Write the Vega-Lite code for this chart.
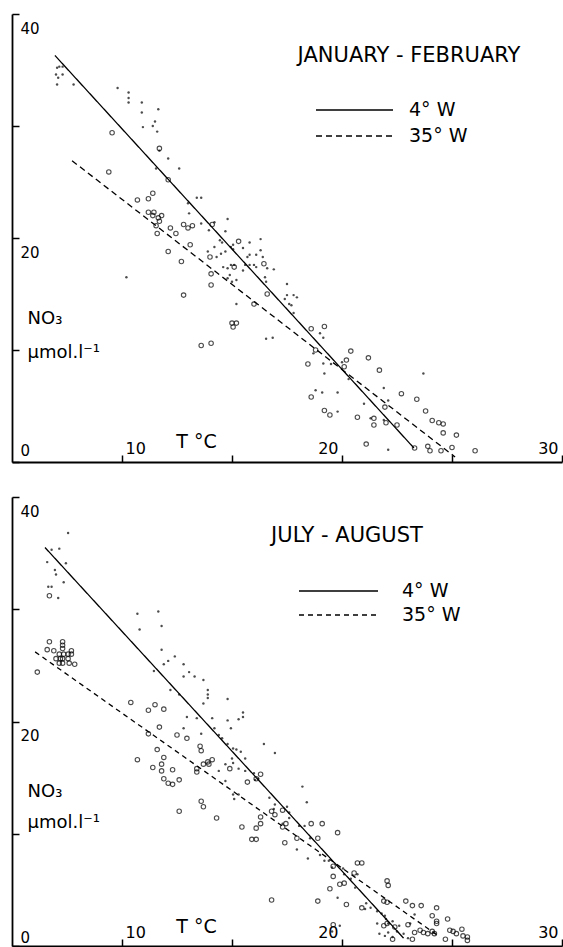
{
  "$schema": "https://vega.github.io/schema/vega-lite/v6.json",
  "background": "white",
  "padding": {"left": 11, "top": 13, "right": 0, "bottom": 0},
  "spacing": 33,
  "config": {
    "view": {"stroke": null},
    "font": "DejaVu Sans",
    "axis": {"grid": false, "domainColor": "black", "domainWidth": 1.8, "tickColor": "black", "tickWidth": 1.5, "tickSize": -7, "labelColor": "black", "labelFont": "DejaVu Sans", "labelFontSize": 15, "titleColor": "black", "titleFont": "DejaVu Sans", "titleFontWeight": "normal", "labelFlush": false, "labelOverlap": false},
    "legend": {"labelColor": "black", "labelFont": "DejaVu Sans", "labelFontSize": 19, "symbolType": "stroke", "symbolStrokeColor": "black", "symbolStrokeWidth": 1.3, "padding": 0},
    "title": {"font": "DejaVu Sans", "fontSize": 21, "fontWeight": "normal", "color": "black", "anchor": "middle", "frame": "group", "baseline": "alphabetic"}
  },
  "datasets": {
    "jfLines": [
      {"station": "4° W", "T": 6.95, "NO3": 36.3}, {"station": "4° W", "T": 23.27, "NO3": 1.25},
      {"station": "35° W", "T": 7.73, "NO3": 26.9}, {"station": "35° W", "T": 25.14, "NO3": 0.45}
    ],
    "jaLines": [
      {"station": "4° W", "T": 6.5, "NO3": 35.5}, {"station": "4° W", "T": 22.8, "NO3": 0.7},
      {"station": "35° W", "T": 6.05, "NO3": 26.2}, {"station": "35° W", "T": 24.45, "NO3": 0.8}
    ],
    "jfPts": [
      {"station":"4° W","T":7.05,"NO3":35.2},{"station":"4° W","T":7.15,"NO3":35.3},{"station":"4° W","T":7.3,"NO3":35.3},{"station":"4° W","T":7.0,"NO3":34.6},{"station":"4° W","T":7.1,"NO3":34.3},{"station":"4° W","T":7.3,"NO3":34.6},{"station":"4° W","T":7.05,"NO3":33.7},{"station":"4° W","T":7.8,"NO3":33.7},{"station":"4° W","T":9.8,"NO3":33.4},{"station":"4° W","T":10.3,"NO3":33.0},{"station":"4° W","T":10.3,"NO3":32.5},{"station":"4° W","T":10.3,"NO3":32.1},{"station":"4° W","T":10.9,"NO3":32.1},{"station":"4° W","T":10.9,"NO3":31.2},{"station":"4° W","T":11.65,"NO3":31.5},{"station":"4° W","T":10.95,"NO3":29.9},{"station":"4° W","T":11.4,"NO3":30.0},{"station":"4° W","T":11.5,"NO3":30.4},{"station":"4° W","T":11.6,"NO3":29.5},{"station":"4° W","T":11.7,"NO3":27.8},{"station":"4° W","T":12.1,"NO3":27.1},{"station":"4° W","T":12.6,"NO3":26.2},{"station":"4° W","T":11.55,"NO3":26.2},{"station":"4° W","T":13.4,"NO3":23.6},{"station":"4° W","T":13.6,"NO3":23.6},{"station":"4° W","T":13.0,"NO3":23.1},{"station":"4° W","T":13.05,"NO3":22.2},{"station":"4° W","T":13.6,"NO3":21.3},{"station":"4° W","T":14.2,"NO3":21.4},{"station":"4° W","T":14.8,"NO3":21.7},{"station":"4° W","T":14.7,"NO3":20.6},{"station":"4° W","T":13.95,"NO3":20.7},{"station":"4° W","T":14.45,"NO3":19.8},{"station":"4° W","T":14.55,"NO3":19.6},{"station":"4° W","T":14.2,"NO3":19.2},{"station":"4° W","T":13.9,"NO3":18.8},{"station":"4° W","T":14.3,"NO3":18.3},{"station":"4° W","T":14.5,"NO3":18.6},{"station":"4° W","T":14.7,"NO3":18.8},{"station":"4° W","T":14.95,"NO3":19.2},{"station":"4° W","T":15.05,"NO3":19.4},{"station":"4° W","T":15.05,"NO3":19.0},{"station":"4° W","T":15.5,"NO3":19.1},{"station":"4° W","T":15.8,"NO3":19.6},{"station":"4° W","T":16.3,"NO3":19.9},{"station":"4° W","T":15.7,"NO3":18.3},{"station":"4° W","T":15.8,"NO3":18.5},{"station":"4° W","T":16.1,"NO3":18.5},{"station":"4° W","T":16.3,"NO3":18.9},{"station":"4° W","T":16.4,"NO3":18.3},{"station":"4° W","T":14.6,"NO3":17.4},{"station":"4° W","T":14.8,"NO3":17.3},{"station":"4° W","T":14.95,"NO3":17.6},{"station":"4° W","T":15.1,"NO3":17.6},{"station":"4° W","T":15.6,"NO3":17.6},{"station":"4° W","T":15.8,"NO3":17.6},{"station":"4° W","T":16.0,"NO3":17.6},{"station":"4° W","T":16.1,"NO3":17.4},{"station":"4° W","T":16.6,"NO3":17.3},{"station":"4° W","T":16.9,"NO3":17.2},{"station":"4° W","T":15.5,"NO3":17.1},{"station":"4° W","T":14.9,"NO3":16.7},{"station":"4° W","T":14.8,"NO3":16.4},{"station":"4° W","T":15.0,"NO3":16.1},{"station":"4° W","T":15.2,"NO3":16.25},{"station":"4° W","T":16.5,"NO3":16.5},{"station":"4° W","T":16.55,"NO3":16.1},{"station":"4° W","T":17.5,"NO3":15.9},{"station":"4° W","T":17.8,"NO3":14.9},{"station":"4° W","T":17.95,"NO3":14.7},{"station":"4° W","T":17.5,"NO3":14.9},{"station":"4° W","T":17.4,"NO3":14.55},{"station":"4° W","T":17.6,"NO3":14.1},{"station":"4° W","T":17.7,"NO3":14.0},{"station":"4° W","T":17.8,"NO3":13.3},{"station":"4° W","T":15.2,"NO3":14.1},{"station":"4° W","T":16.85,"NO3":11.1},{"station":"4° W","T":16.55,"NO3":11.0},{"station":"4° W","T":19.0,"NO3":11.5},{"station":"4° W","T":19.15,"NO3":11.1},{"station":"4° W","T":18.7,"NO3":9.7},{"station":"4° W","T":19.15,"NO3":8.8},{"station":"4° W","T":19.2,"NO3":7.9},{"station":"4° W","T":19.5,"NO3":8.75},{"station":"4° W","T":20.0,"NO3":8.9},{"station":"4° W","T":20.3,"NO3":7.4},{"station":"4° W","T":18.8,"NO3":6.4},{"station":"4° W","T":19.1,"NO3":6.2},{"station":"4° W","T":19.8,"NO3":6.2},{"station":"4° W","T":19.8,"NO3":4.5},{"station":"4° W","T":21.0,"NO3":5.2},{"station":"4° W","T":21.3,"NO3":3.9},{"station":"4° W","T":21.9,"NO3":6.6},{"station":"4° W","T":22.1,"NO3":5.5},{"station":"4° W","T":23.7,"NO3":7.9},{"station":"4° W","T":22.1,"NO3":1.1},{"station":"4° W","T":21.9,"NO3":3.75},{"station":"4° W","T":10.2,"NO3":16.5},
      {"station":"35° W","T":9.55,"NO3":29.4},{"station":"35° W","T":9.4,"NO3":25.9},{"station":"35° W","T":11.7,"NO3":28.0},{"station":"35° W","T":12.1,"NO3":25.2},{"station":"35° W","T":11.4,"NO3":24.0},{"station":"35° W","T":10.7,"NO3":23.4},{"station":"35° W","T":11.2,"NO3":23.5},{"station":"35° W","T":11.2,"NO3":22.3},{"station":"35° W","T":11.45,"NO3":22.3},{"station":"35° W","T":11.4,"NO3":22.0},{"station":"35° W","T":11.65,"NO3":21.8},{"station":"35° W","T":11.8,"NO3":22.0},{"station":"35° W","T":11.7,"NO3":21.5},{"station":"35° W","T":11.55,"NO3":21.1},{"station":"35° W","T":11.6,"NO3":20.4},{"station":"35° W","T":12.2,"NO3":20.9},{"station":"35° W","T":12.45,"NO3":20.4},{"station":"35° W","T":12.8,"NO3":21.2},{"station":"35° W","T":13.0,"NO3":20.9},{"station":"35° W","T":13.2,"NO3":21.1},{"station":"35° W","T":14.1,"NO3":21.2},{"station":"35° W","T":12.1,"NO3":18.8},{"station":"35° W","T":13.1,"NO3":19.4},{"station":"35° W","T":12.7,"NO3":17.9},{"station":"35° W","T":14.0,"NO3":18.3},{"station":"35° W","T":14.05,"NO3":16.8},{"station":"35° W","T":14.05,"NO3":15.8},{"station":"35° W","T":12.8,"NO3":14.9},{"station":"35° W","T":15.1,"NO3":17.4},{"station":"35° W","T":15.3,"NO3":19.7},{"station":"35° W","T":16.45,"NO3":17.7},{"station":"35° W","T":16.6,"NO3":15.0},{"station":"35° W","T":16.0,"NO3":14.1},{"station":"35° W","T":15.0,"NO3":12.4},{"station":"35° W","T":15.2,"NO3":12.4},{"station":"35° W","T":15.05,"NO3":12.05},{"station":"35° W","T":13.6,"NO3":10.4},{"station":"35° W","T":14.05,"NO3":10.6},{"station":"35° W","T":18.6,"NO3":11.9},{"station":"35° W","T":19.2,"NO3":12.1},{"station":"35° W","T":18.8,"NO3":10.0},{"station":"35° W","T":18.45,"NO3":8.75},{"station":"35° W","T":20.4,"NO3":9.9},{"station":"35° W","T":20.2,"NO3":9.1},{"station":"35° W","T":20.1,"NO3":8.5},{"station":"35° W","T":21.2,"NO3":9.3},{"station":"35° W","T":21.7,"NO3":8.2},{"station":"35° W","T":18.6,"NO3":5.8},{"station":"35° W","T":19.2,"NO3":4.6},{"station":"35° W","T":19.45,"NO3":4.2},{"station":"35° W","T":20.7,"NO3":4.0},{"station":"35° W","T":21.45,"NO3":3.9},{"station":"35° W","T":21.45,"NO3":3.3},{"station":"35° W","T":21.95,"NO3":4.9},{"station":"35° W","T":22.0,"NO3":3.5},{"station":"35° W","T":22.5,"NO3":3.3},{"station":"35° W","T":22.7,"NO3":6.1},{"station":"35° W","T":23.4,"NO3":5.6},{"station":"35° W","T":23.8,"NO3":4.55},{"station":"35° W","T":24.1,"NO3":3.7},{"station":"35° W","T":24.4,"NO3":3.5},{"station":"35° W","T":24.6,"NO3":3.4},{"station":"35° W","T":24.6,"NO3":2.6},{"station":"35° W","T":25.2,"NO3":2.4},{"station":"35° W","T":21.1,"NO3":1.6},{"station":"35° W","T":23.3,"NO3":1.25},{"station":"35° W","T":23.9,"NO3":1.4},{"station":"35° W","T":24.0,"NO3":1.0},{"station":"35° W","T":24.5,"NO3":1.0},{"station":"35° W","T":25.0,"NO3":1.3},{"station":"35° W","T":26.05,"NO3":1.0}
    ],
    "jaPts": [
      {"station":"4° W","T":7.55,"NO3":36.8},{"station":"4° W","T":6.8,"NO3":35.3},{"station":"4° W","T":7.15,"NO3":35.4},{"station":"4° W","T":6.6,"NO3":34.2},{"station":"4° W","T":7.45,"NO3":34.1},{"station":"4° W","T":6.95,"NO3":33.5},{"station":"4° W","T":7.0,"NO3":33.1},{"station":"4° W","T":7.35,"NO3":32.4},{"station":"4° W","T":6.65,"NO3":32.0},{"station":"4° W","T":6.8,"NO3":32.0},{"station":"4° W","T":7.1,"NO3":31.0},{"station":"4° W","T":10.7,"NO3":29.6},{"station":"4° W","T":11.65,"NO3":29.8},{"station":"4° W","T":10.8,"NO3":28.2},{"station":"4° W","T":11.8,"NO3":28.5},{"station":"4° W","T":11.8,"NO3":26.4},{"station":"4° W","T":11.45,"NO3":24.5},{"station":"4° W","T":11.9,"NO3":25.1},{"station":"4° W","T":12.1,"NO3":25.4},{"station":"4° W","T":12.4,"NO3":25.8},{"station":"4° W","T":12.8,"NO3":25.1},{"station":"4° W","T":12.8,"NO3":24.0},{"station":"4° W","T":13.05,"NO3":24.4},{"station":"4° W","T":13.3,"NO3":24.0},{"station":"4° W","T":13.7,"NO3":23.7},{"station":"4° W","T":13.9,"NO3":22.8},{"station":"4° W","T":13.9,"NO3":22.4},{"station":"4° W","T":13.9,"NO3":22.1},{"station":"4° W","T":13.7,"NO3":21.6},{"station":"4° W","T":14.8,"NO3":22.0},{"station":"4° W","T":12.2,"NO3":22.8},{"station":"4° W","T":12.6,"NO3":22.4},{"station":"4° W","T":12.95,"NO3":20.4},{"station":"4° W","T":13.4,"NO3":20.3},{"station":"4° W","T":12.8,"NO3":19.4},{"station":"4° W","T":13.6,"NO3":18.9},{"station":"4° W","T":14.1,"NO3":20.3},{"station":"4° W","T":14.2,"NO3":19.4},{"station":"4° W","T":14.8,"NO3":20.1},{"station":"4° W","T":14.95,"NO3":19.4},{"station":"4° W","T":15.3,"NO3":20.2},{"station":"4° W","T":15.5,"NO3":20.8},{"station":"4° W","T":15.5,"NO3":20.4},{"station":"4° W","T":14.4,"NO3":18.8},{"station":"4° W","T":14.55,"NO3":18.5},{"station":"4° W","T":14.8,"NO3":18.0},{"station":"4° W","T":15.05,"NO3":17.6},{"station":"4° W","T":15.2,"NO3":17.5},{"station":"4° W","T":15.4,"NO3":17.3},{"station":"4° W","T":15.6,"NO3":16.7},{"station":"4° W","T":16.45,"NO3":18.0},{"station":"4° W","T":16.95,"NO3":17.2},{"station":"4° W","T":14.7,"NO3":14.7},{"station":"4° W","T":15.0,"NO3":16.7},{"station":"4° W","T":15.3,"NO3":15.8},{"station":"4° W","T":15.6,"NO3":15.6},{"station":"4° W","T":16.0,"NO3":15.4},{"station":"4° W","T":16.2,"NO3":14.9},{"station":"4° W","T":14.7,"NO3":16.2},{"station":"4° W","T":15.05,"NO3":16.3},{"station":"4° W","T":14.4,"NO3":15.6},{"station":"4° W","T":15.05,"NO3":13.5},{"station":"4° W","T":15.3,"NO3":13.5},{"station":"4° W","T":15.1,"NO3":13.1},{"station":"4° W","T":16.05,"NO3":14.8},{"station":"4° W","T":16.7,"NO3":13.2},{"station":"4° W","T":16.95,"NO3":12.6},{"station":"4° W","T":17.5,"NO3":12.4},{"station":"4° W","T":17.6,"NO3":11.9},{"station":"4° W","T":18.2,"NO3":14.2},{"station":"4° W","T":18.4,"NO3":12.8},{"station":"4° W","T":17.6,"NO3":11.4},{"station":"4° W","T":16.9,"NO3":12.2},{"station":"4° W","T":17.3,"NO3":10.9},{"station":"4° W","T":18.05,"NO3":10.7},{"station":"4° W","T":18.3,"NO3":10.7},{"station":"4° W","T":18.55,"NO3":9.6},{"station":"4° W","T":17.95,"NO3":8.6},{"station":"4° W","T":18.45,"NO3":7.8},{"station":"4° W","T":19.0,"NO3":8.1},{"station":"4° W","T":19.2,"NO3":7.6},{"station":"4° W","T":19.4,"NO3":7.6},{"station":"4° W","T":19.55,"NO3":7.0},{"station":"4° W","T":20.05,"NO3":6.9},{"station":"4° W","T":20.1,"NO3":6.4},{"station":"4° W","T":20.4,"NO3":6.0},{"station":"4° W","T":20.6,"NO3":5.2},{"station":"4° W","T":19.8,"NO3":4.3},{"station":"4° W","T":21.1,"NO3":3.8},{"station":"4° W","T":21.3,"NO3":3.4},{"station":"4° W","T":21.6,"NO3":3.1},{"station":"4° W","T":21.8,"NO3":2.9},{"station":"4° W","T":21.95,"NO3":2.7},{"station":"4° W","T":22.0,"NO3":2.4},{"station":"4° W","T":21.6,"NO3":2.0},{"station":"4° W","T":22.1,"NO3":2.0},{"station":"4° W","T":22.3,"NO3":2.2},{"station":"4° W","T":22.6,"NO3":1.8},{"station":"4° W","T":21.7,"NO3":1.1},{"station":"4° W","T":21.95,"NO3":0.9},{"station":"4° W","T":22.1,"NO3":1.2},{"station":"4° W","T":22.3,"NO3":0.8},{"station":"4° W","T":22.5,"NO3":1.3},{"station":"4° W","T":22.8,"NO3":1.1},{"station":"4° W","T":23.0,"NO3":0.7},{"station":"4° W","T":23.3,"NO3":2.8},{"station":"4° W","T":23.1,"NO3":2.0},{"station":"4° W","T":19.9,"NO3":1.8},{"station":"4° W","T":19.55,"NO3":1.3},{"station":"4° W","T":21.05,"NO3":3.3},{"station":"4° W","T":20.7,"NO3":6.4},
      {"station":"35° W","T":6.7,"NO3":27.1},{"station":"35° W","T":6.6,"NO3":26.4},{"station":"35° W","T":6.9,"NO3":26.3},{"station":"35° W","T":7.3,"NO3":27.1},{"station":"35° W","T":7.3,"NO3":26.8},{"station":"35° W","T":7.3,"NO3":26.5},{"station":"35° W","T":7.15,"NO3":26.0},{"station":"35° W","T":7.35,"NO3":26.0},{"station":"35° W","T":7.55,"NO3":26.0},{"station":"35° W","T":7.7,"NO3":26.3},{"station":"35° W","T":7.7,"NO3":26.0},{"station":"35° W","T":7.0,"NO3":25.6},{"station":"35° W","T":7.2,"NO3":25.6},{"station":"35° W","T":7.3,"NO3":25.6},{"station":"35° W","T":7.55,"NO3":25.6},{"station":"35° W","T":7.15,"NO3":25.2},{"station":"35° W","T":7.3,"NO3":25.2},{"station":"35° W","T":7.6,"NO3":25.2},{"station":"35° W","T":7.85,"NO3":25.1},{"station":"35° W","T":6.15,"NO3":24.4},{"station":"35° W","T":6.7,"NO3":31.2},{"station":"35° W","T":10.4,"NO3":21.7},{"station":"35° W","T":11.5,"NO3":21.5},{"station":"35° W","T":11.2,"NO3":21.0},{"station":"35° W","T":11.9,"NO3":21.1},{"station":"35° W","T":11.7,"NO3":19.5},{"station":"35° W","T":11.2,"NO3":18.9},{"station":"35° W","T":12.5,"NO3":18.8},{"station":"35° W","T":12.95,"NO3":18.5},{"station":"35° W","T":10.7,"NO3":16.6},{"station":"35° W","T":11.4,"NO3":15.9},{"station":"35° W","T":11.8,"NO3":16.2},{"station":"35° W","T":11.8,"NO3":15.6},{"station":"35° W","T":11.6,"NO3":17.5},{"station":"35° W","T":11.9,"NO3":16.8},{"station":"35° W","T":12.3,"NO3":15.7},{"station":"35° W","T":11.9,"NO3":14.9},{"station":"35° W","T":12.1,"NO3":14.5},{"station":"35° W","T":12.3,"NO3":14.4},{"station":"35° W","T":12.6,"NO3":14.8},{"station":"35° W","T":12.6,"NO3":12.0},{"station":"35° W","T":13.4,"NO3":15.8},{"station":"35° W","T":13.4,"NO3":15.5},{"station":"35° W","T":13.55,"NO3":17.8},{"station":"35° W","T":13.6,"NO3":17.4},{"station":"35° W","T":13.7,"NO3":16.2},{"station":"35° W","T":13.9,"NO3":16.4},{"station":"35° W","T":13.95,"NO3":16.2},{"station":"35° W","T":14.1,"NO3":16.6},{"station":"35° W","T":14.9,"NO3":15.8},{"station":"35° W","T":13.6,"NO3":12.9},{"station":"35° W","T":13.7,"NO3":12.4},{"station":"35° W","T":14.3,"NO3":11.4},{"station":"35° W","T":15.7,"NO3":14.6},{"station":"35° W","T":16.1,"NO3":14.9},{"station":"35° W","T":16.3,"NO3":15.3},{"station":"35° W","T":15.45,"NO3":10.6},{"station":"35° W","T":15.9,"NO3":9.5},{"station":"35° W","T":16.1,"NO3":9.5},{"station":"35° W","T":16.1,"NO3":10.5},{"station":"35° W","T":16.3,"NO3":10.9},{"station":"35° W","T":16.3,"NO3":11.5},{"station":"35° W","T":16.8,"NO3":12.0},{"station":"35° W","T":16.95,"NO3":11.7},{"station":"35° W","T":17.3,"NO3":12.1},{"station":"35° W","T":17.45,"NO3":10.9},{"station":"35° W","T":17.3,"NO3":10.6},{"station":"35° W","T":17.95,"NO3":9.6},{"station":"35° W","T":17.4,"NO3":9.2},{"station":"35° W","T":18.6,"NO3":10.9},{"station":"35° W","T":19.1,"NO3":10.9},{"station":"35° W","T":18.9,"NO3":9.6},{"station":"35° W","T":19.8,"NO3":10.1},{"station":"35° W","T":19.6,"NO3":7.1},{"station":"35° W","T":19.6,"NO3":6.2},{"station":"35° W","T":19.9,"NO3":5.5},{"station":"35° W","T":20.1,"NO3":5.6},{"station":"35° W","T":19.45,"NO3":5.1},{"station":"35° W","T":20.2,"NO3":3.7},{"station":"35° W","T":20.7,"NO3":7.4},{"station":"35° W","T":20.9,"NO3":7.4},{"station":"35° W","T":20.55,"NO3":6.5},{"station":"35° W","T":18.9,"NO3":4.0},{"station":"35° W","T":20.9,"NO3":3.4},{"station":"35° W","T":22.05,"NO3":5.8},{"station":"35° W","T":22.1,"NO3":5.4},{"station":"35° W","T":21.9,"NO3":4.0},{"station":"35° W","T":22.05,"NO3":3.9},{"station":"35° W","T":22.9,"NO3":4.0},{"station":"35° W","T":23.2,"NO3":3.6},{"station":"35° W","T":23.6,"NO3":3.6},{"station":"35° W","T":24.3,"NO3":3.4},{"station":"35° W","T":24.1,"NO3":2.7},{"station":"35° W","T":24.8,"NO3":2.4},{"station":"35° W","T":24.3,"NO3":2.2},{"station":"35° W","T":24.3,"NO3":2.0},{"station":"35° W","T":19.6,"NO3":1.9},{"station":"35° W","T":16.8,"NO3":4.1},{"station":"35° W","T":21.9,"NO3":1.8},{"station":"35° W","T":22.05,"NO3":2.0},{"station":"35° W","T":22.4,"NO3":1.7},{"station":"35° W","T":23.0,"NO3":1.9},{"station":"35° W","T":23.3,"NO3":1.2},{"station":"35° W","T":23.2,"NO3":0.6},{"station":"35° W","T":23.55,"NO3":1.4},{"station":"35° W","T":23.7,"NO3":1.2},{"station":"35° W","T":23.9,"NO3":1.1},{"station":"35° W","T":24.1,"NO3":1.3},{"station":"35° W","T":24.2,"NO3":1.1},{"station":"35° W","T":24.9,"NO3":1.4},{"station":"35° W","T":25.05,"NO3":1.3},{"station":"35° W","T":25.2,"NO3":1.1},{"station":"35° W","T":25.45,"NO3":1.5},{"station":"35° W","T":25.5,"NO3":0.9},{"station":"35° W","T":25.7,"NO3":0.8},{"station":"35° W","T":25.7,"NO3":0.5},{"station":"35° W","T":24.7,"NO3":0.6},{"station":"35° W","T":22.3,"NO3":0.6}
    ]
  },
  "resolve": {"scale": {"x": "independent", "y": "independent", "strokeDash": "independent"}, "legend": {"strokeDash": "independent"}},
  "vconcat": [
    {
      "width": 550,
      "height": 448,
      "title": {"text": "JANUARY - FEBRUARY", "offset": -53, "dx": 122},
      "encoding": {
        "x": {"field": "T", "type": "quantitative", "scale": {"domain": [5, 30], "nice": false, "zero": false},
          "axis": {"values": [10, 15, 20, 25, 30], "labelExpr": "datum.value % 10 == 0 ? datum.label : ''", "labelFontSize": 16, "labelBaseline": "alphabetic", "labelPadding": -2,
            "labelAlign": {"condition": {"test": "datum.value == 10", "value": "left"}, "value": "right"},
            "labelOffset": {"condition": {"test": "datum.value == 10", "value": 3}, "value": -4},
            "title": "T °C", "titleFontSize": 19, "titleX": 184, "titleY": -15, "titleAlign": "center", "titleBaseline": "alphabetic"}},
        "y": {"field": "NO3", "type": "quantitative", "scale": {"domain": [0, 40], "nice": false},
          "axis": {"values": [0, 10, 20, 30, 40], "labelExpr": "datum.value % 20 == 0 ? datum.label : ''", "labelAlign": "left", "labelPadding": -1,
            "labelBaseline": {"condition": {"test": "datum.value == 0", "value": "alphabetic"}, "value": "top"},
            "labelOffset": {"condition": {"test": "datum.value == 0", "value": -7}, "value": 7},
            "title": ["NO₃", "µmol.l⁻¹"], "titleFontSize": 18, "titleAngle": 0, "titleAlign": "left", "titleBaseline": "alphabetic", "titleX": 15, "titleY": 309, "titleLineHeight": 34}}
      },
      "layer": [
        {"data": {"name": "jfLines"}, "mark": {"type": "line", "color": "black", "strokeWidth": 1.3},
          "encoding": {"strokeDash": {"field": "station", "type": "nominal", "scale": {"domain": ["4° W", "35° W"], "range": [[1, 0], [6, 4]]},
            "legend": {"title": null, "orient": "none", "legendX": 303, "legendY": 86, "symbolSize": 5929, "clipHeight": 20, "rowPadding": 6, "labelOffset": 15}}}},
        {"data": {"name": "jfPts"}, "transform": [{"filter": "datum.station == '4° W'"}], "mark": {"type": "point", "filled": true, "size": 6, "color": "black"}},
        {"data": {"name": "jfPts"}, "transform": [{"filter": "datum.station == '35° W'"}], "mark": {"type": "point", "filled": false, "size": 20, "strokeWidth": 1.1, "color": "black"}}
      ]
    },
    {
      "width": 550,
      "height": 449,
      "title": {"text": "JULY - AUGUST", "offset": -50, "dx": 60},
      "encoding": {
        "x": {"field": "T", "type": "quantitative", "scale": {"domain": [5, 30], "nice": false, "zero": false},
          "axis": {"values": [10, 15, 20, 25, 30], "labelExpr": "datum.value % 10 == 0 ? datum.label : ''", "labelFontSize": 16, "labelBaseline": "alphabetic", "labelPadding": -2,
            "labelAlign": {"condition": {"test": "datum.value == 10", "value": "left"}, "value": "right"},
            "labelOffset": {"condition": {"test": "datum.value == 10", "value": 3}, "value": -4},
            "title": "T °C", "titleFontSize": 19, "titleX": 184, "titleY": -14, "titleAlign": "center", "titleBaseline": "alphabetic"}},
        "y": {"field": "NO3", "type": "quantitative", "scale": {"domain": [0, 40], "nice": false},
          "axis": {"values": [0, 10, 20, 30, 40], "labelExpr": "datum.value % 20 == 0 ? datum.label : ''", "labelAlign": "left", "labelPadding": -1,
            "labelBaseline": {"condition": {"test": "datum.value == 0", "value": "alphabetic"}, "value": "top"},
            "labelOffset": {"condition": {"test": "datum.value == 0", "value": -4}, "value": 7},
            "title": ["NO₃", "µmol.l⁻¹"], "titleFontSize": 18, "titleAngle": 0, "titleAlign": "left", "titleBaseline": "alphabetic", "titleX": 15, "titleY": 299, "titleLineHeight": 31}}
      },
      "layer": [
        {"data": {"name": "jaLines"}, "mark": {"type": "line", "color": "black", "strokeWidth": 1.3},
          "encoding": {"strokeDash": {"field": "station", "type": "nominal", "scale": {"domain": ["4° W", "35° W"], "range": [[1, 0], [5, 4]]},
            "legend": {"title": null, "orient": "none", "legendX": 286, "legendY": 84, "symbolSize": 6241, "clipHeight": 20, "rowPadding": 4, "labelOffset": 23}}}},
        {"data": {"name": "jaPts"}, "transform": [{"filter": "datum.station == '4° W'"}], "mark": {"type": "point", "filled": true, "size": 6, "color": "black"}},
        {"data": {"name": "jaPts"}, "transform": [{"filter": "datum.station == '35° W'"}], "mark": {"type": "point", "filled": false, "size": 20, "strokeWidth": 1.1, "color": "black"}}
      ]
    }
  ]
}
